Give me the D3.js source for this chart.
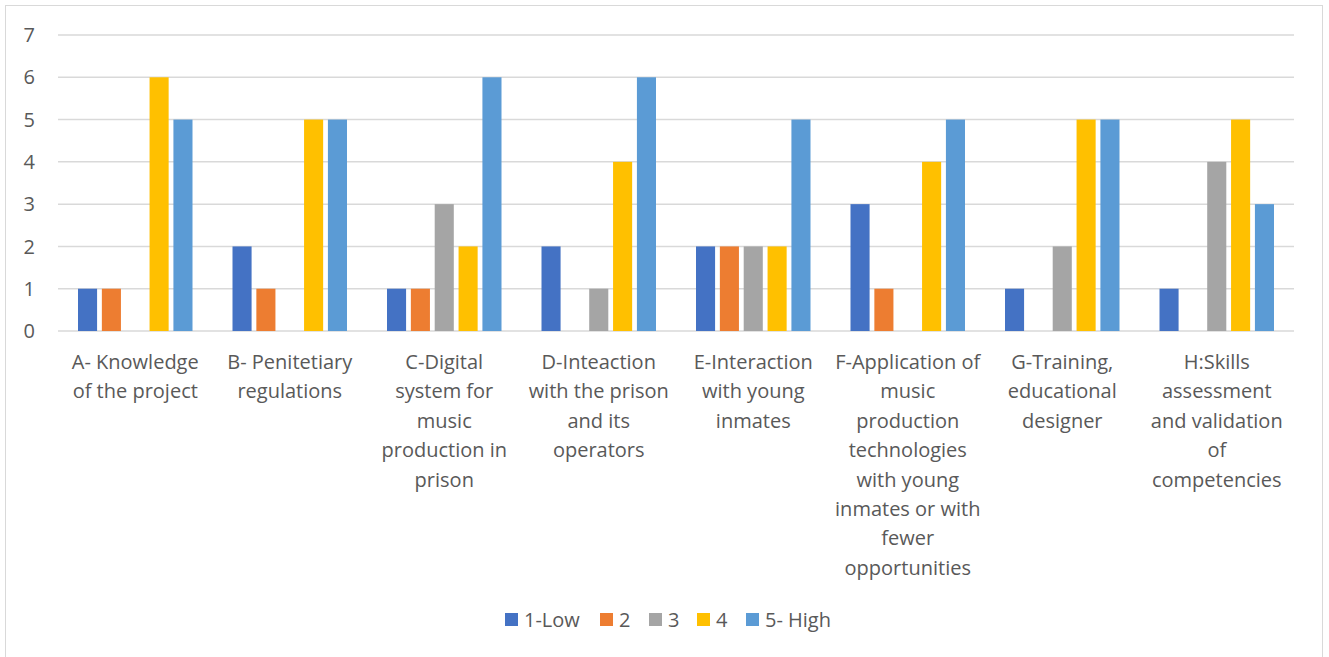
<!DOCTYPE html>
<html lang="en">
<head>
<meta charset="UTF-8">
<title>Ratings by area</title>
<script src="https://cdnjs.cloudflare.com/ajax/libs/d3/7.8.5/d3.min.js"></script>
<style>
  body { margin: 0; background: #fff; }
  text { font-family: "Open Sans", Lato, sans-serif; fill: #595959; }
</style>
</head>
<body>
<div id="chart"></div>
<script>
var categories = [
  "A- Knowledge\nof the project",
  "B- Penitetiary\nregulations",
  "C-Digital\nsystem for\nmusic\nproduction in\nprison",
  "D-Inteaction\nwith the prison\nand its\noperators",
  "E-Interaction\nwith young\ninmates",
  "F-Application of\nmusic\nproduction\ntechnologies\nwith young\ninmates or with\nfewer\nopportunities",
  "G-Training,\neducational\ndesigner",
  "H:Skills\nassessment\nand validation\nof\ncompetencies"
];
var seriesNames = ["1-Low", "2", "3", "4", "5- High"];
var seriesColors = ["#4472C4", "#ED7D31", "#A5A5A5", "#FFC000", "#5B9BD5"];
var low1  = [1, 2, 1, 2, 2, 3, 1, 1];
var two   = [1, 1, 1, 0, 2, 1, 0, 0];
var three = [0, 0, 3, 1, 2, 0, 2, 4];
var four  = [6, 5, 2, 4, 2, 4, 5, 5];
var high5 = [5, 5, 6, 6, 5, 5, 5, 3];
var yTicks = [0, 1, 2, 3, 4, 5, 6, 7];

var series = [low1, two, three, four, high5];

var width = 1329, height = 657;
var plotLeft = 58, plotRight = 1294, plotTop = 35, plotBottom = 331;

var svg = d3.select("#chart").append("svg")
    .attr("width", width)
    .attr("height", height);

svg.append("rect")
    .attr("x", 5.5).attr("y", 5.5)
    .attr("width", 1317).attr("height", 660)
    .attr("fill", "#fff")
    .attr("stroke", "#D9D9D9");

var x0 = d3.scaleBand().domain(d3.range(categories.length)).range([plotLeft, plotRight]);
var x1 = d3.scaleBand().domain(d3.range(series.length))
    .range([20, x0.bandwidth() - 20]).paddingInner(0.2);
var y = d3.scaleLinear().domain([0, 7]).range([plotBottom, plotTop]);

// gridlines
svg.append("g").selectAll("line")
    .data(yTicks)
    .enter().append("line")
    .attr("x1", plotLeft).attr("x2", plotRight)
    .attr("y1", function(d) { return y(d); })
    .attr("y2", function(d) { return y(d); })
    .attr("stroke", "#D9D9D9")
    .attr("stroke-width", 1.5);

svg.append("g").selectAll("text")
    .data(yTicks)
    .enter().append("text")
    .attr("x", 35)
    .attr("y", function(d) { return y(d); })
    .attr("dy", "0.36em")
    .attr("text-anchor", "end")
    .attr("font-size", 20)
    .text(function(d) { return d; });

// bars
var groups = svg.append("g").selectAll("g")
    .data(categories)
    .enter().append("g")
    .attr("transform", function(d, i) { return "translate(" + x0(i) + ",0)"; });

groups.selectAll("rect")
    .data(function(d, i) { return series.map(function(s, k) { return { k: k, v: s[i] }; }); })
    .enter().append("rect")
    .attr("x", function(d) { return x1(d.k); })
    .attr("width", x1.bandwidth())
    .attr("y", function(d) { return y(d.v); })
    .attr("height", function(d) { return y(0) - y(d.v); })
    .attr("fill", function(d) { return seriesColors[d.k]; });

// category labels
groups.append("text")
    .attr("text-anchor", "middle")
    .attr("font-size", 20)
    .attr("transform", "translate(" + x0.bandwidth() / 2 + ",0)")
    .selectAll("tspan")
    .data(function(d) { return d.split("\n"); })
    .enter().append("tspan")
    .attr("x", 0)
    .attr("y", function(d, i) { return 369 + i * 29.4; })
    .text(function(d) { return d; });

// legend
var legendX = [505, 600, 649, 697, 746];
var legend = svg.append("g").selectAll("g")
    .data(seriesNames)
    .enter().append("g")
    .attr("transform", function(d, i) { return "translate(" + legendX[i] + ",613)"; });
legend.append("rect")
    .attr("width", 13).attr("height", 13)
    .attr("fill", function(d, i) { return seriesColors[i]; });
legend.append("text")
    .attr("x", 19).attr("y", 7)
    .attr("dy", "0.36em")
    .attr("font-size", 20)
    .text(function(d) { return d; });
</script>
</body>
</html>
